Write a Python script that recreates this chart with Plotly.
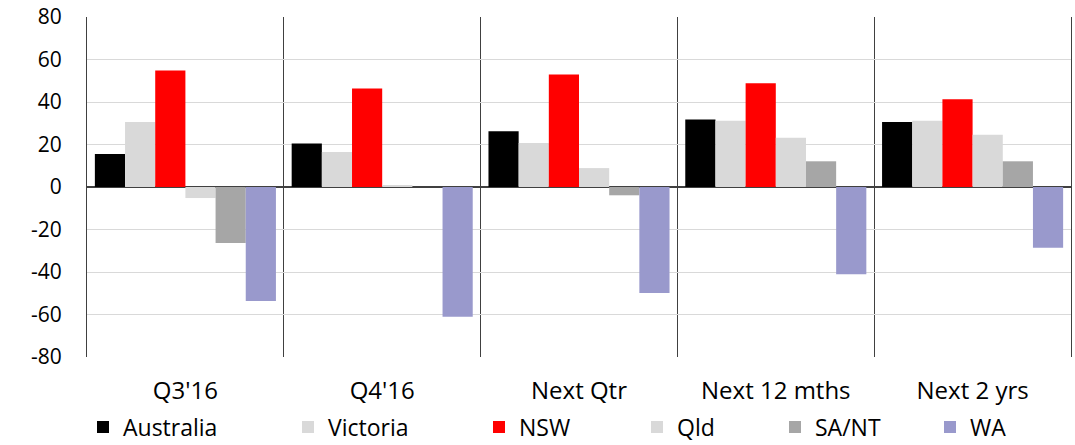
import plotly.graph_objects as go

periods = ["Q3'16", "Q4'16", "Next Qtr", "Next 12 mths", "Next 2 yrs"]

australia = [15.5, 20.5, 26.2, 31.8, 30.6]
victoria = [30.6, 16.5, 20.7, 31.2, 31.2]
nsw = [54.8, 46.4, 53.0, 48.8, 41.3]
qld = [-5.2, 0.5, 8.9, 23.2, 24.6]
sa_nt = [-26.4, 0.0, -3.9, 12.1, 12.1]
wa = [-53.6, -61.0, -49.9, -41.1, -28.6]

y_tick_values = [80, 60, 40, 20, 0, -20, -40, -60, -80]
y_tick_labels = ["80", "60", "40", "20", "0", "-20", "-40", "-60", "-80"]

series = [
    ("Australia", australia, "#000000"),
    ("Victoria", victoria, "#D9D9D9"),
    ("NSW", nsw, "#FF0000"),
    ("Qld", qld, "#D9D9D9"),
    ("SA/NT", sa_nt, "#A6A6A6"),
    ("WA", wa, "#9999CC"),
]

W, H = 1075, 445
FONT = "Open Sans"

# left edge (px) of each legend entry along the bottom row
legend_left_px = [83, 288, 479, 637, 775, 930]
legend_mid_px = 427

fig = go.Figure()
legend_layout = {}
for i, (name, vals, color) in enumerate(series):
    key = "legend" if i == 0 else f"legend{i + 1}"
    fig.add_trace(go.Bar(
        x=periods, y=vals, name=name, legend=key,
        marker=dict(color=color, line=dict(width=0)),
    ))
    legend_layout[key] = dict(
        xref="container", yref="container",
        x=legend_left_px[i] / W, xanchor="left",
        y=1 - legend_mid_px / H, yanchor="middle",
        font=dict(family=FONT, size=23, color="#000000"),
        itemwidth=30, bgcolor="rgba(0,0,0,0)", borderwidth=0,
    )

fig.update_layout(
    width=W, height=H,
    margin=dict(l=87, r=4, t=17, b=88, autoexpand=False),
    paper_bgcolor="white", plot_bgcolor="white",
    barmode="group", bargap=0.08, bargroupgap=0,
    font=dict(family=FONT, size=20, color="#000000"),
    showlegend=True,
    **legend_layout,
)

fig.update_xaxes(
    type="category", tickson="boundaries",
    showgrid=True, gridcolor="#404040", gridwidth=1,
    ticks="", showline=False,
    tickfont=dict(family=FONT, size=24, color="#000000"),
    ticklabelstandoff=17,
)

fig.update_yaxes(
    range=[-80, 80], tickvals=y_tick_values, ticktext=y_tick_labels,
    showgrid=True, gridcolor="#D9D9D9", gridwidth=1,
    zeroline=True, zerolinecolor="#404040", zerolinewidth=1.5,
    showline=True, mirror=True, linecolor="#404040", linewidth=1,
    ticks="", ticklabelstandoff=20,
    tickfont=dict(family=FONT, size=21, color="#000000"),
)

fig.write_html("out.html")
